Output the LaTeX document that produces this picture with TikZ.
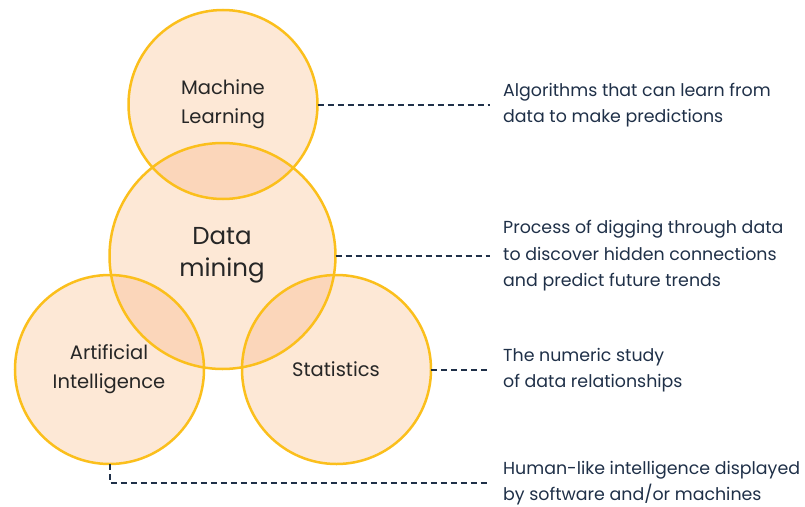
\documentclass[tikz,border=0pt]{standalone}
\usepackage{fontspec}
\setmainfont{Poppins}
\definecolor{cfill}{HTML}{FDE8D6}
\definecolor{cover}{HTML}{FBD6BA}
\definecolor{cstroke}{HTML}{FBBF1C}
\definecolor{navy}{HTML}{1F3048}
\definecolor{lbl}{HTML}{262626}
\tikzset{
  venn/.style={circle, inner sep=0pt, fill=cfill},
  ring/.style={draw=cstroke, line width=2.5pt},
  clabel/.style={text=lbl, align=center, font=\fontsize{19.5}{29}\selectfont},
  desc/.style={text=navy, align=left, anchor=west, inner xsep=13pt, inner ysep=0pt, font=\fontsize{17.4}{26.5}\selectfont},
  link/.style={draw=navy, line width=2pt, dash pattern=on 6pt off 4pt}
}
\begin{document}
\begin{tikzpicture}[x=1pt,y=-1pt]
\useasboundingbox (0,0) rectangle (805,506);
% circles (fill)
\node[venn, minimum size=189pt] (ml) at (223,104.5) {};
\node[venn, minimum size=226pt] (dm) at (222.5,256) {};
\node[venn, minimum size=189pt] (ai) at (109.5,369.5) {};
\node[venn, minimum size=189pt] (st) at (336.5,369.5) {};
% overlaps
\begin{scope}
  \clip (dm.center) circle (113);
  \fill[cover] (ml.center) circle (94.5);
  \fill[cover] (ai.center) circle (94.5);
  \fill[cover] (st.center) circle (94.5);
\end{scope}
% rings
\draw[ring] (ml.center) circle (94.5);
\draw[ring] (dm.center) circle (113);
\draw[ring] (ai.center) circle (94.5);
\draw[ring] (st.center) circle (94.5);
% labels
\node[clabel] (mll) at (223,104) {Machine\\Learning};
\node[clabel, font=\fontsize{24.5}{32}\selectfont] (dml) at (222,255) {Data\\mining};
\node[clabel] (ail) at (109,369) {Artificial\\Intelligence};
\node[clabel] (stl) at (336,369) {Statistics};
% descriptions
\node[desc] (mlt) at (490,105) {Algorithms that can learn from\\data to make predictions};
\node[desc] (dmt) at (490,256) {Process of digging through data\\to discover hidden connections\\and predict future trends};
\node[desc] (stt) at (490,370) {The numeric study\\of data relationships};
\node[desc] (ait) at (490,483) {Human-like intelligence displayed\\by software and/or machines};
% connectors
\draw[link] (ml.east) -- (ml.east -| mlt.west);
\draw[link] (dm.east) -- (dm.east -| dmt.west);
\draw[link] (st.east) -- (st.east -| stt.west);
\draw[link] (ai.south) |- (ait.west);
\end{tikzpicture}
\end{document}
